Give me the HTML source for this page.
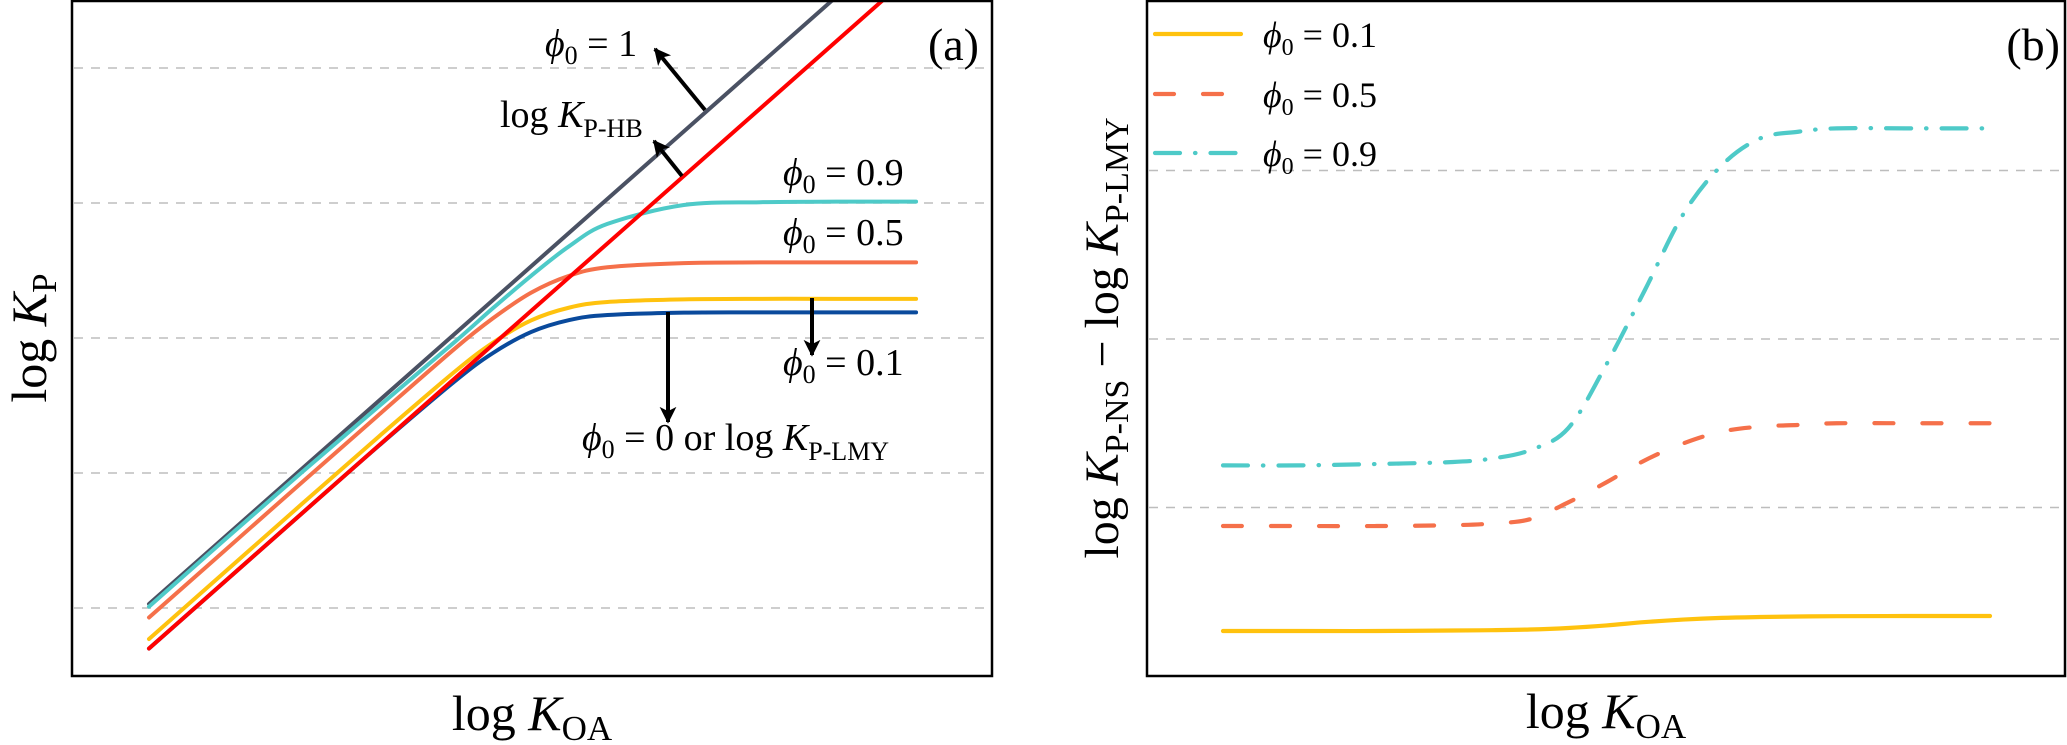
<!DOCTYPE html>
<html><head><meta charset="utf-8"><style>
html,body{margin:0;padding:0;background:#fff;}
svg{display:block;font-family:"Liberation Serif",serif;}
</style></head><body>
<svg id="fig" width="2067" height="745" viewBox="0 0 2067 745">
<defs>
<clipPath id="clipA"><rect x="72" y="1" width="920" height="675"/></clipPath>
<marker id="arr" viewBox="0 0 10 10" refX="9" refY="5" markerWidth="4.2" markerHeight="4.6" orient="auto" markerUnits="strokeWidth"><path d="M0,0 L10,5 L0,10 L2.5,5 z" fill="#000"/></marker>
</defs>
<g id="panelA"></g>
<g id="panelB"></g>
</svg>
<script>
// ---- Panel (a) data ----
const xA = [0, 0.5, 1, 1.5, 2, 2.25, 2.5, 2.75, 3, 3.5, 4, 4.5, 5.02];
const phi0Blue   = [0.70, 1.20, 1.70, 2.198, 2.678, 2.888, 3.044, 3.133, 3.170, 3.188, 3.19, 3.19, 3.19];
const phi01Yellow = [0.77, 1.27, 1.77, 2.266, 2.75, 2.965, 3.13, 3.225, 3.267, 3.286, 3.29, 3.29, 3.29];
const phi05Orange = [0.93, 1.43, 1.93, 2.427, 2.92, 3.145, 3.335, 3.461, 3.524, 3.555, 3.56, 3.56, 3.56];
const phi09Cyan   = [1.01, 1.51, 2.005, 2.49, 2.97, 3.22, 3.46, 3.68, 3.845, 3.985, 4.006, 4.01, 4.01];
const xGrey = [0, 4.47];
const phi1Grey = [1.03, 5.50];
const xRed = [0, 4.80];
const hbRed = [0.70, 5.50];
const gridA = [1, 2, 3, 4, 5];
// ---- Panel (b) data ----
const xB = [0, 0.5, 1, 1.5, 1.75, 2, 2.25, 2.5, 2.75, 3, 3.25, 3.5, 3.75, 4, 4.5, 5];
const diff09 = [1.25, 1.25, 1.258, 1.27, 1.29, 1.34, 1.47, 1.85, 2.29, 2.74, 3.03, 3.19, 3.23, 3.25, 3.25, 3.25];
const diff05 = [0.89, 0.89, 0.89, 0.895, 0.905, 0.93, 1.03, 1.15, 1.28, 1.38, 1.45, 1.48, 1.49, 1.50, 1.50, 1.50];
const diff01 = [0.267, 0.267, 0.267, 0.27, 0.272, 0.276, 0.285, 0.30, 0.32, 0.335, 0.345, 0.35, 0.353, 0.355, 0.356, 0.356];
const gridB = [1, 2, 3];

const NS = "http://www.w3.org/2000/svg";
function mk(tag, attrs, parent){const e=document.createElementNS(NS,tag);for(const k in attrs)e.setAttribute(k,attrs[k]);parent.appendChild(e);return e;}
function smooth(pts){
  let d="M"+pts[0][0].toFixed(2)+","+pts[0][1].toFixed(2);
  for(let i=0;i<pts.length-1;i++){
    const p0=pts[i-1]||pts[i],p1=pts[i],p2=pts[i+1],p3=pts[i+2]||p2;
    const c1=[p1[0]+(p2[0]-p0[0])/6,p1[1]+(p2[1]-p0[1])/6];
    const c2=[p2[0]-(p3[0]-p1[0])/6,p2[1]-(p3[1]-p1[1])/6];
    d+=" C"+c1.join(",")+" "+c2.join(",")+" "+p2.join(",");
  }
  return d;
}
const axA = {x:v=>149+v*152.8, y:v=>743-v*135};
const axB = {x:v=>1223+v*153.4, y:v=>676-v*168.5};

const A=document.getElementById("panelA");
const B=document.getElementById("panelB");

gridA.forEach(g=>{
  const l=mk("line",{x1:74,x2:990,y1:axA.y(g),y2:axA.y(g),stroke:"#bdbdbd","stroke-width":1.6,"stroke-dasharray":"9 8"},A);
  
  
});
gridB.forEach(g=>{
  const l=mk("line",{x1:1149,x2:2063,y1:axB.y(g),y2:axB.y(g),stroke:"#bdbdbd","stroke-width":1.6,"stroke-dasharray":"9 8"},B);
  
  
});

const seriesA=[
  [xGrey,phi1Grey,"#4a5163","line-phi0-1"],
  [xA,phi09Cyan,"#4ecac8","line-phi0-0.9"],
  [xA,phi05Orange,"#f5704a","line-phi0-0.5"],
  [xA,phi01Yellow,"#ffc20e","line-phi0-0.1"],
  [xA,phi0Blue,"#0a4a9c","line-phi0-0"],
  [xRed,hbRed,"#ff0000","line-log-kp-hb"]
];
const gA=mk("g",{"clip-path":"url(#clipA)"},A);
seriesA.forEach(s=>{
  const pts=s[0].map((x,i)=>[axA.x(x),axA.y(s[1][i])]);
  const p=mk("path",{d:smooth(pts),fill:"none",stroke:s[2],"stroke-width":4,"stroke-linecap":"round"},gA);
  
  
});

const seriesB=[
  [diff01,"#ffc20e","",  "line-b-phi0-0.1"],
  [diff05,"#f5704a","19 29","line-b-phi0-0.5"],
  [diff09,"#4ecac8","25 15 0.5 15","line-b-phi0-0.9"]
];
seriesB.forEach(s=>{
  const pts=xB.map((x,i)=>[axB.x(x),axB.y(s[0][i])]);
  const at={d:smooth(pts),fill:"none",stroke:s[1],"stroke-width":4.2,"stroke-linecap":"round"};
  if(s[2])at["stroke-dasharray"]=s[2];
  const p=mk("path",at,B);
  
  
});
</script>

<svg width="2067" height="745" style="position:absolute;left:0;top:0">
<defs>
<marker id="arr2" viewBox="0 0 10 10" refX="9" refY="5" markerWidth="4.2" markerHeight="4.6" orient="auto" markerUnits="strokeWidth"><path d="M0,0 L10,5 L0,10 L2.5,5 z" fill="#000"/></marker>
</defs>
<rect x="72" y="1" width="920" height="675" fill="none" stroke="#000" stroke-width="2.5"/>
<rect x="1147" y="1" width="918" height="675" fill="none" stroke="#000" stroke-width="2.5"/>

<g font-family="Liberation Serif, serif" fill="#000">
<text x="979" y="60" font-size="46" text-anchor="end">(a)</text>
<text x="2060" y="60" font-size="46" text-anchor="end">(b)</text>

<text x="532" y="730" font-size="50" text-anchor="middle">log <tspan font-style="italic">K</tspan><tspan font-size="35" dy="10">OA</tspan></text>
<text x="1606" y="728" font-size="50" text-anchor="middle">log <tspan font-style="italic">K</tspan><tspan font-size="35" dy="10">OA</tspan></text>
<text transform="translate(46,338) rotate(-90)" font-size="50" text-anchor="middle">log <tspan font-style="italic">K</tspan><tspan font-size="35" dy="10">P</tspan></text>
<text transform="translate(1118,338) rotate(-90)" font-size="48" text-anchor="middle">log <tspan font-style="italic">K</tspan><tspan font-size="34" dy="10">P-NS</tspan><tspan dy="-10"> − log </tspan><tspan font-style="italic">K</tspan><tspan font-size="34" dy="10">P-LMY</tspan></text>

<g font-size="38">
<text x="545" y="56"><tspan font-style="italic">ϕ</tspan><tspan font-size="26" dy="8">0</tspan><tspan dy="-8"> = 1</tspan></text>
<text x="500" y="127">log <tspan font-style="italic">K</tspan><tspan font-size="26" dy="10">P-HB</tspan></text>
<text x="783" y="185"><tspan font-style="italic">ϕ</tspan><tspan font-size="26" dy="8">0</tspan><tspan dy="-8"> = 0.9</tspan></text>
<text x="783" y="245"><tspan font-style="italic">ϕ</tspan><tspan font-size="26" dy="8">0</tspan><tspan dy="-8"> = 0.5</tspan></text>
<text x="783" y="375"><tspan font-style="italic">ϕ</tspan><tspan font-size="26" dy="8">0</tspan><tspan dy="-8"> = 0.1</tspan></text>
<text x="582" y="450"><tspan font-style="italic">ϕ</tspan><tspan font-size="26" dy="8">0</tspan><tspan dy="-8"> = 0 or log </tspan><tspan font-style="italic">K</tspan><tspan font-size="26" dy="10">P-LMY</tspan></text>
</g>

<g stroke="#000" stroke-width="4" fill="none">
<line x1="705" y1="110" x2="655" y2="49" marker-end="url(#arr2)"/>
<line x1="682" y1="176" x2="654" y2="141" marker-end="url(#arr2)"/>
<line x1="812" y1="298" x2="812" y2="355" marker-end="url(#arr2)"/>
<line x1="668" y1="312" x2="668" y2="422" marker-end="url(#arr2)"/>
</g>

<g>
<line x1="1155" y1="34" x2="1241" y2="34" stroke="#ffc20e" stroke-width="4.2" stroke-linecap="round"/>
<line x1="1155" y1="94" x2="1241" y2="94" stroke="#f5704a" stroke-width="4.2" stroke-linecap="round" stroke-dasharray="19 29"/>
<line x1="1155" y1="153" x2="1241" y2="153" stroke="#4ecac8" stroke-width="4.2" stroke-linecap="round" stroke-dasharray="25 15 0.5 15"/>
<g font-size="36">
<text x="1263" y="47"><tspan font-style="italic">ϕ</tspan><tspan font-size="24" dy="8">0</tspan><tspan dy="-8"> = 0.1</tspan></text>
<text x="1263" y="107"><tspan font-style="italic">ϕ</tspan><tspan font-size="24" dy="8">0</tspan><tspan dy="-8"> = 0.5</tspan></text>
<text x="1263" y="166"><tspan font-style="italic">ϕ</tspan><tspan font-size="24" dy="8">0</tspan><tspan dy="-8"> = 0.9</tspan></text>
</g>
</g>
</g>
</svg>
</body></html>
